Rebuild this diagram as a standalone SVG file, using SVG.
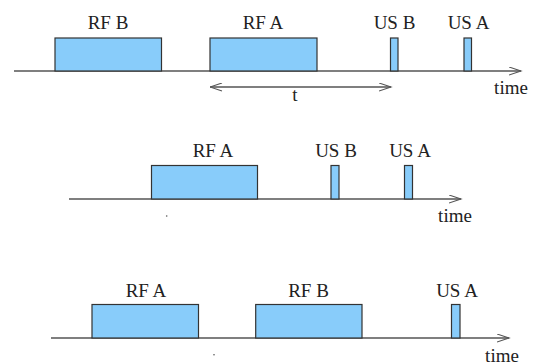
<svg xmlns="http://www.w3.org/2000/svg" width="534" height="364" viewBox="0 0 534 364">
<style>
.box{fill:#88ccfa;stroke:#333;stroke-width:1.2}
.ax{stroke:#555;stroke-width:1.3;fill:none}
.dot{fill:#555}
</style>
<defs>
<marker id="open" markerWidth="14" markerHeight="10" refX="12" refY="4.5" orient="auto" markerUnits="userSpaceOnUse">
<path d="M0,0.5 L12,4.5 L0,8.5" fill="none" stroke="#555" stroke-width="1.1"/>
</marker>
<marker id="openStart" markerWidth="14" markerHeight="10" refX="0" refY="4.5" orient="auto" markerUnits="userSpaceOnUse">
<path d="M12,0.5 L0,4.5 L12,8.5" fill="none" stroke="#555" stroke-width="1.1"/>
</marker>
</defs>
<g id="connectors">
<line class="ax" x1="14" y1="71" x2="521" y2="71" marker-end="url(#open)"/>
<line class="ax" x1="210" y1="87" x2="391" y2="87" marker-start="url(#openStart)" marker-end="url(#open)"/>
<line class="ax" x1="69" y1="199" x2="461" y2="199" marker-end="url(#open)"/>
<line class="ax" x1="51" y1="338" x2="509" y2="338" marker-end="url(#open)"/>
</g>
<g font-family="Liberation Serif, serif" font-size="19" fill="#222" text-anchor="middle">
<g id="row1">
<g id="rfb1"><rect class="box" x="55" y="38" width="106.5" height="33"/><text x="108" y="29">RF B</text></g>
<g id="rfa1"><rect class="box" x="210" y="38" width="107" height="33"/><text x="263" y="29">RF A</text></g>
<g id="usb1"><rect class="box" x="390.5" y="38" width="7.5" height="33"/><text x="394.5" y="29">US B</text></g>
<g id="usa1"><rect class="box" x="464" y="38" width="7.5" height="33"/><text x="468.5" y="29">US A</text></g>
<text x="511" y="94">time</text>
<text x="295" y="101">t</text>
</g>
<g id="row2">
<g id="rfa2"><rect class="box" x="151.5" y="165.5" width="106" height="33.5"/><text x="213" y="156.5">RF A</text></g>
<g id="usb2"><rect class="box" x="331" y="165.5" width="8" height="33.5"/><text x="336" y="156.5">US B</text></g>
<g id="usa2"><rect class="box" x="404.5" y="165.5" width="8" height="33.5"/><text x="410" y="156.5">US A</text></g>
<text x="455" y="221.5">time</text>
<circle class="dot" cx="166.7" cy="216" r="0.8"/>
</g>
<g id="row3">
<g id="rfa3"><rect class="box" x="92" y="304.5" width="106.5" height="33.5"/><text x="146" y="296.5">RF A</text></g>
<g id="rfb3"><rect class="box" x="255.7" y="304.5" width="106.3" height="33.5"/><text x="308.5" y="296.5">RF B</text></g>
<g id="usa3"><rect class="box" x="451.5" y="304.5" width="8.5" height="33.5"/><text x="457" y="296.5">US A</text></g>
<text x="502" y="361.5">time</text>
<circle class="dot" cx="214" cy="354.7" r="0.8"/>
</g>
</g>
</svg>
